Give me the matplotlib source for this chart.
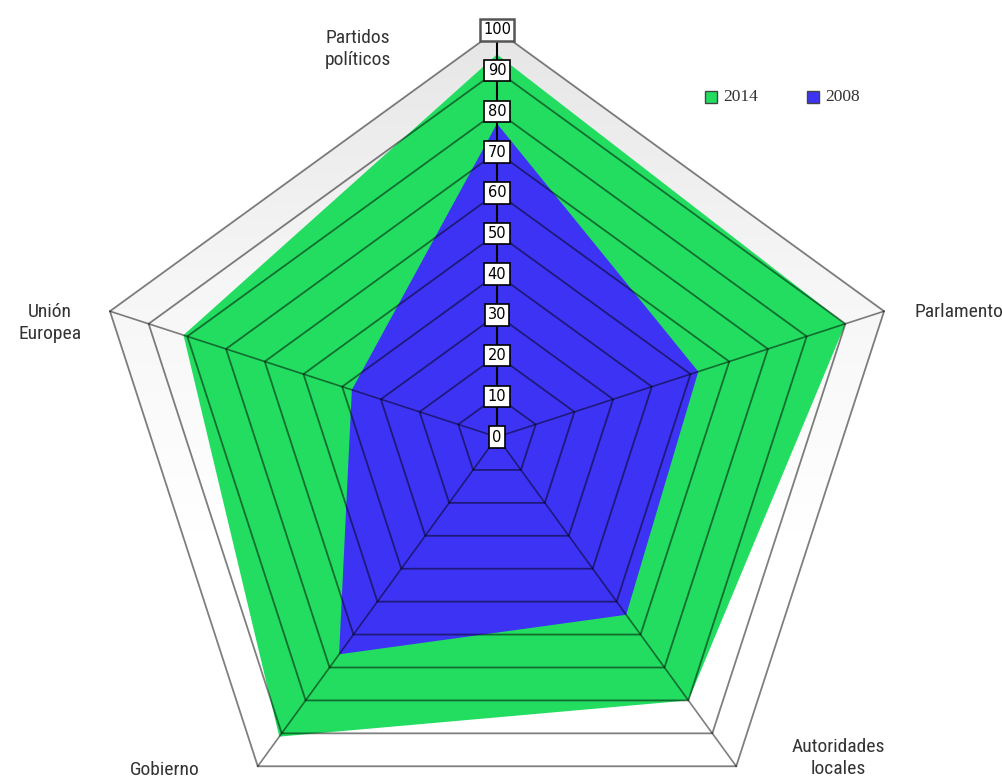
import numpy as np
import matplotlib
matplotlib.use("Agg")
import matplotlib.pyplot as plt
from matplotlib.patches import Polygon, Rectangle
from matplotlib.colors import LinearSegmentedColormap

categories = ["Partidos\npolíticos", "Parlamento", "Autoridades\nlocales", "Gobierno", "Unión\nEuropea"]
values_2014 = [94, 90, 80, 91, 81]
values_2008 = [77, 52, 54, 66, 37.5]
series_names = ["2014", "2008"]
tick_values = [0, 10, 20, 30, 40, 50, 60, 70, 80, 90, 100]

green = "#22dd60"
blue = "#3d33f5"

W, H = 1003, 780
cx, cy = 497, 437
ppu = 4.07  # pixels per unit

fig = plt.figure(figsize=(W / 100, H / 100), dpi=100)
ax = fig.add_axes([0, 0, 1, 1])
ax.set_xlim(-cx / ppu, (W - cx) / ppu)
ax.set_ylim(-(H - cy) / ppu, cy / ppu)
ax.set_aspect("equal")
ax.axis("off")

n = len(categories)
angles = np.deg2rad(90 - 72 * np.arange(n))


def pts(vals):
    vals = np.asarray(vals, dtype=float)
    return np.column_stack([vals * np.cos(angles), vals * np.sin(angles)])


# gradient background in the outer polygon
outer = pts([100] * n)
bg = Polygon(outer, closed=True, facecolor="none", edgecolor="none")
ax.add_patch(bg)
grad = np.linspace(0, 1, 256).reshape(-1, 1)
cmap = LinearSegmentedColormap.from_list("g", ["#e6e6e6", "#f6f6f6", "#ffffff", "#ffffff"])
im = ax.imshow(grad, extent=[-100, 100, -85, 100], origin="upper", cmap=cmap,
               aspect="auto", zorder=0.5)
im.set_clip_path(bg)

# data fills
ax.add_patch(Polygon(pts(values_2014), closed=True, facecolor=green, edgecolor="none", zorder=1))
ax.add_patch(Polygon(pts(values_2008), closed=True, facecolor=blue, edgecolor="none", zorder=2))

# grid rings
for t in tick_values[1:]:
    p = pts([t] * n)
    p = np.vstack([p, p[:1]])
    ax.plot(p[:, 0], p[:, 1], color="black", alpha=0.5, lw=1.3, zorder=3)

# spokes
for a in angles:
    ax.plot([0, 100 * np.cos(a)], [0, 100 * np.sin(a)], color="black", alpha=0.5, lw=1.2, zorder=3)
ax.plot([0, 0], [0, 100], color="black", lw=1.5, zorder=3.5)

# tick labels
for t in tick_values:
    lw = 1.8 if t == 100 else 1.2
    ec = "#555555" if t == 100 else "black"
    ax.text(0, t, str(t), ha="center", va="center", fontsize=10.5, family="DejaVu Sans",
            zorder=5, bbox=dict(boxstyle="square,pad=0.22", facecolor="white", edgecolor=ec, lw=lw))

# category labels
lab_font = ["Roboto Condensed", "Liberation Sans Narrow", "Roboto", "DejaVu Sans"]
label_pos = [(358, 49, "center"), (915, 312, "left"), (838, 758, "center"), (165, 770, "center"), (50, 323, "center")]
for name, (px, py, ha) in zip(categories, label_pos):
    ax.text((px - cx) / ppu, (cy - py) / ppu, name, ha=ha, va="center", fontsize=14,
            family=lab_font, color="#333333", linespacing=1.3, zorder=6)

# legend
leg_items = [(705, 723, green), (807, 825, blue)]
for name, (sx, tx, col) in zip(series_names, leg_items):
    s = 12
    ax.add_patch(Rectangle(((sx - cx) / ppu, (cy - 103) / ppu), s / ppu, s / ppu,
                           facecolor=col, edgecolor="#444444", lw=1.0, zorder=6))
    ax.text((tx - cx) / ppu, (cy - 97) / ppu, name, ha="left", va="center", fontsize=12.5,
            family="Liberation Serif", color="#333333", zorder=6)

fig.savefig("out.png", dpi=100)
